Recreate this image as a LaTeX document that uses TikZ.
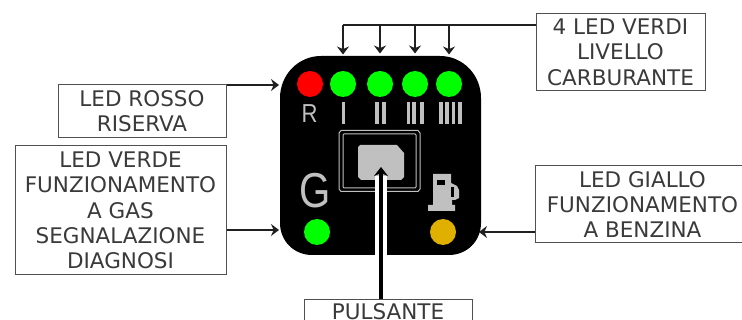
\documentclass[tikz,border=0pt]{standalone}
\usepackage{fontspec}
\setmainfont{DejaVu Sans}
\newfontfamily\glyphfont{Liberation Sans}
\usetikzlibrary{arrows.meta}
\definecolor{panelgray}{HTML}{C0C0C0}
\definecolor{linedark}{HTML}{202020}
\definecolor{boxline}{HTML}{505050}
\definecolor{textdark}{HTML}{3A3A3A}
\definecolor{lampyellow}{HTML}{E0B000}
\tikzset{
  x=1pt,y=-1pt,
  labelbox/.style={draw=boxline,line width=1pt,fill=white,align=center,inner sep=0pt,
    font=\fontsize{21.5pt}{25.3pt}\selectfont,text=textdark},
  lamp/.style={circle,minimum size=26pt,inner sep=0pt,fill=#1},
  conn/.style={draw=linedark,line width=1.4pt,-{Stealth[length=8pt,width=12pt]}},
  bar/.style={fill=panelgray,draw=none},
  mark text/.style={text=panelgray,inner sep=0pt},
}
\begin{document}
\begin{tikzpicture}
\useasboundingbox (0,0) rectangle (742,320);
\clip (0,0) rectangle (742,320);
% panel
\fill[black] (280,98) .. controls (280,75) and (298,56) .. (321,56) -- (440,56)
  .. controls (463,56) and (481,75) .. (481,98) -- (481,223)
  .. controls (481,241) and (467,255) .. (449,255) -- (312,255)
  .. controls (294,255) and (280,241) .. (280,223) -- cycle;
% lamps
\node[lamp=red] (ledR) at (310,84) {};
\node[lamp=green] (led1) at (343,84) {};
\node[lamp=green] (led2) at (380,84) {};
\node[lamp=green] (led3) at (415,84) {};
\node[lamp=green] (led4) at (449,84) {};
\node[lamp=green] (ledG) at (317,232) {};
\node[lamp=lampyellow] (ledY) at (443,232) {};
% marks
\node[mark text,font=\glyphfont\fontsize{26pt}{26pt}\selectfont,xscale=.85] (markR) at (309.5,114) {R};
\foreach \bx/\bw in {342/2.6,375/4,382/3.5,406.7/3.5,412/3.5,420/3.5,438.5/4,445/4,451.5/3.5,458/3.5}{\fill[bar] (\bx,102.5) rectangle ++(\bw,21.5);}
\node[mark text,font=\glyphfont\fontsize{49pt}{49pt}\selectfont,xscale=.82] (markG) at (315,191) {G};
% pump
\fill[panelgray] (433,174) -- (451,174) -- (451,183) -- (457,186) -- (459,190) -- (459,198) -- (455,200) -- (452,200) -- (452,205) -- (455,205) -- (455,211) -- (428,211) -- (428,205) -- (433,205) -- cycle;
\fill[black] (437,180) rectangle (445,185);
\fill[black] (451,187) rectangle (454,197);
% button
\draw[panelgray,line width=1pt] (339,133) -- (341,130.5) -- (418,130.5) -- (420,133) -- (420,189) -- (418,191.5) -- (341,191.5) -- (339,189) -- cycle;
\draw[panelgray,line width=1pt] (343,135) -- (344,134) -- (415,134) -- (416,135) -- (416,187) -- (415,188) -- (344,188) -- (343,187) -- cycle;
\fill[panelgray] (358,147) -- (360,145) -- (397,145) -- (404,153) -- (404,177) -- (401,180) -- (361,180) -- (358,177) -- cycle;
\fill[white] (375,176) rectangle (387,256);
% labels
\node[labelbox,minimum width=168pt,minimum height=53pt] (rosso) at (142,111.5) {LED ROSSO\\RISERVA};
\node[labelbox,minimum width=211pt,minimum height=129pt] (verde) at (120.5,210.5) {LED VERDE\\FUNZIONAMENTO\\A GAS\\SEGNALAZIONE\\DIAGNOSI};
\node[labelbox,minimum width=169pt,minimum height=77.5pt] (carb) at (620.5,52.25) {4 LED VERDI\\LIVELLO\\CARBURANTE};
\node[labelbox,minimum width=215pt,minimum height=77pt] (giallo) at (642.5,204.5) {LED GIALLO\\FUNZIONAMENTO\\A BENZINA};
\node[labelbox,minimum width=168pt,minimum height=24pt,anchor=north,text height=15.4pt,text depth=0pt] (puls) at (388,299) {PULSANTE};
% connectors: free ends are named coordinates, the others come from the nodes
\coordinate (a2) at (279,85);
\coordinate (g2) at (279,230);
\coordinate (y2) at (479,232);
\coordinate (rail) at (343,25);
\coordinate (p2) at (381,167);
\path (rosso.east |- a2) coordinate (a1);
\path (verde.east |- g2) coordinate (g1);
\path (giallo.west |- y2) coordinate (y1);
\path (carb.west |- rail) coordinate (hub);
\path (led1 |- rail) coordinate (t1);
\path (led2 |- rail) coordinate (t2);
\path (led3 |- rail) coordinate (t3);
\path (led4 |- rail) coordinate (t4);
\path (p2 |- puls.north) coordinate (p1);
\draw[conn] (a1) -- (a2);
\draw[conn] (g1) -- (g2);
\draw[conn] (y1) -- (y2);
\draw[draw=linedark,line width=1.4pt] (hub) -- (t1);
\draw[conn] (t1) -- ++(0,29.5);
\draw[conn] (t2) -- ++(0,28.5);
\draw[conn] (t3) -- ++(0,28.5);
\draw[conn] (t4) -- ++(0,29.5);
\draw[draw=black,line width=4pt,-{Stealth[length=9pt,width=14pt]}] (p1) -- (p2);
\end{tikzpicture}
\end{document}
